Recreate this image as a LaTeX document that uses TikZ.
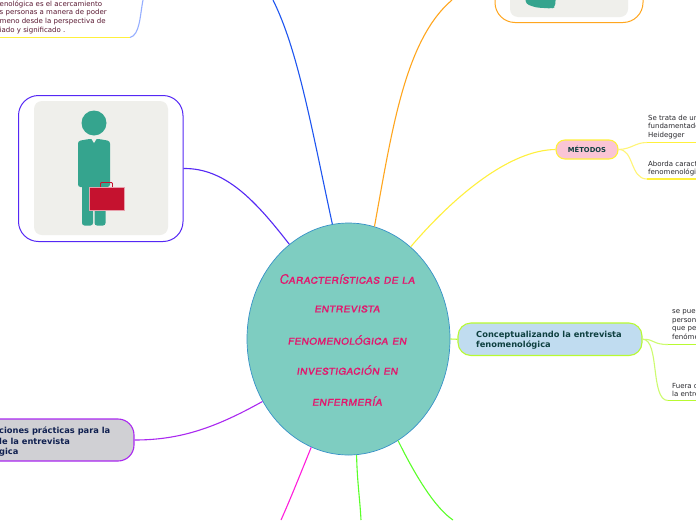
\documentclass[tikz,border=0pt]{standalone}
\usepackage{fontspec}
\setmainfont{DejaVu Sans}
\newfontfamily\titlefont[FakeSlant=0.15,FakeBold=0.4]{TeX Gyre Heros}
\usetikzlibrary{shapes.geometric}
\definecolor{centrefill}{RGB}{126,205,193}
\definecolor{centredraw}{RGB}{55,145,200}
\definecolor{titlepink}{RGB}{226,24,110}
\definecolor{metodfill}{RGB}{250,197,213}
\definecolor{linkyellow}{RGB}{255,240,60}
\definecolor{concfill}{RGB}{192,220,240}
\definecolor{linklime}{RGB}{184,250,50}
\definecolor{practfill}{RGB}{208,208,212}
\definecolor{linkpurple}{RGB}{170,40,240}
\definecolor{linkviolet}{RGB}{85,40,245}
\definecolor{linkorange}{RGB}{255,166,30}
\definecolor{linkblue}{RGB}{30,85,240}
\definecolor{linkpale}{RGB}{150,175,255}
\definecolor{linkgreen}{RGB}{90,255,40}
\definecolor{linkmagenta}{RGB}{255,30,220}
\definecolor{cardfill}{RGB}{239,239,235}
\definecolor{personteal}{RGB}{53,164,142}
\definecolor{casered}{RGB}{197,18,47}
\definecolor{textdark}{RGB}{40,40,45}
\definecolor{textmaroon}{RGB}{90,25,50}
\definecolor{textteal}{RGB}{14,64,64}
\definecolor{textnavy}{RGB}{16,32,80}
\tikzset{
    % Central topic
    centrenode/.style={
        ellipse, draw=centredraw, fill=centrefill, line width=0.7pt,
        minimum width=203pt, minimum height=232pt, inner sep=0pt
    },
    titletext/.style={
        inner sep=0pt, text=titlepink, font=\titlefont\fontsize{13}{15}\selectfont
    },
    % Branch boxes
    branchnode/.style={
        rectangle, line width=1.1pt, rounded corners=9pt, inner sep=0pt
    },
    cardnode/.style={
        rectangle, fill=white, line width=1pt, rounded corners=20pt, inner sep=0pt,
        minimum width=164.5pt, minimum height=146pt
    },
    backnode/.style={
        rectangle, fill=cardfill, rounded corners=8pt, inner sep=0pt
    },
    % Leaf texts
    leaftext/.style={
        anchor=north west, inner sep=0pt, align=left, text=textdark,
        font=\fontsize{7}{8.6}\selectfont
    },
    boldtext/.style={
        anchor=north west, inner sep=0pt, align=left,
        font=\bfseries\fontsize{8.3}{10.7}\selectfont
    },
    % Links
    link/.style={line width=1.1pt},
    underline/.style={line width=1.4pt}
}
\begin{document}
\begin{tikzpicture}[x=1pt,y=-1pt]
  \clip (0,0) rectangle (696,520);
  \fill[white] (0,0) rectangle (696,520);
  % centre
  \node[centrenode] (centre) at (348.5,339) {};
  \node[titletext] (t1) at (347,279) {\scshape Características de la};
  \node[titletext] (t2) at (347,309) {\scshape entrevista};
  \node[titletext] (t3) at (347,340) {\scshape fenomenológica en};
  \node[titletext] (t4) at (347,370) {\scshape investigación en};
  \node[titletext] (t5) at (347,401) {\scshape enfermería};
  % image cards
  \node[cardnode,draw=linkviolet] (cardleft) at (100.75,168.5) {};
  \node[backnode,minimum width=134pt,minimum height=134pt] (backleft) at (101,168) {};
  \fill[personteal] (94,123) circle (12.5);
  \fill[personteal,rounded corners=2.5pt] (78,141) -- (89,139) -- (99,139) -- (110,141) -- (110,187) -- (78,187) -- cycle;
  \fill[personteal,rounded corners=2.5pt] (82,180) rectangle (93,225.5);
  \fill[personteal,rounded corners=2.5pt] (94.5,180) rectangle (105.5,225.5);
  \fill[cardfill] (91.5,139) -- (96.5,139) -- (94,143) -- cycle;
  \draw[casered,line width=0.8pt,rounded corners=1pt] (100.5,187) -- (100.5,182.5) -- (112.5,182.5) -- (112.5,187);
  \draw[white!60!casered,line width=0.5pt,fill=casered] (89,187) rectangle (124,210);
  \node[cardnode,draw=linkorange,minimum width=148pt,minimum height=60pt] (cardright) at (569,-7.5) {};
  \node[backnode,minimum width=118pt,minimum height=50pt] (backright) at (569,-8) {};
  \fill[personteal,rounded corners=3pt] (525,-5) -- (556,-5) -- (555,7) -- (552,8.5) -- (536,7.5) -- (526,4) -- cycle;
  % branch boxes
  \node[branchnode,draw=linkyellow,fill=metodfill,minimum width=62pt,minimum height=19pt,
        font=\bfseries\fontsize{6.8}{8}\selectfont,text=textteal] (metodos) at (587,149.5) {MÉTODOS};
  \node[branchnode,draw=linklime,fill=concfill,minimum width=184pt,minimum height=32.5pt,rounded corners=13pt] (concepto) at (550,339.25) {};
  \node[boldtext,text=textteal] (conctext) at (476,330.5) {Conceptualizando la entrevista\\fenomenológica};
  \node[branchnode,draw=linkpurple,fill=practfill,minimum width=174pt,minimum height=42pt,rounded corners=16pt] (practica) at (47,440) {};
  \node[boldtext,text=textnavy] (practext) at (-1,426.5) {ciones prácticas para la\\le la entrevista\\gica};
  % leaf texts
  \node[leaftext,text=textmaroon] (intro) at (-0.5,0.5) {enológica es el acercamiento\\s personas a manera de poder\\meno desde la perspectiva de\\iado y significado .};
  \node[leaftext] (meta) at (648,114.5) {Se trata de un\\fundamentado\\Heidegger};
  \node[leaftext] (metb) at (648,160.5) {Aborda caract\\fenomenológi};
  \node[leaftext] (cona) at (672,309.5) {se pue\\person\\que pe\\fenóme};
  \node[leaftext] (conb) at (672,382.5) {Fuera d\\la entre};
  % free ends
  \coordinate (topblue) at (273,0);
  \coordinate (toporange) at (452,0);
  \coordinate (botgreen) at (453,520);
  \coordinate (botlime) at (361,520);
  \coordinate (botmag) at (281,520);
  \coordinate (introa) at (0,37.5);
  \coordinate (introb) at (130,37.5);
  \coordinate (toppale) at (143,0);
  \coordinate (metaa) at (647,142.5);
  \coordinate (metab) at (696,142.5);
  \coordinate (metba) at (647,179);
  \coordinate (metbb) at (696,179);
  \coordinate (conaa) at (668,344.5);
  \coordinate (conab) at (696,344.5);
  \coordinate (conba) at (668,400.5);
  \coordinate (conbb) at (696,400.5);
  % links from the centre
  \draw[link,linkblue] (centre.98) .. controls (312,130) and (298,50) .. (topblue);
  \draw[link,linkorange] (centre.77) .. controls (392,130) and (405,40) .. (toporange);
  \draw[link,linkyellow] (centre.56) .. controls (455,195) and (510,150) .. (metodos.west);
  \draw[link,linklime] (centre.0) -- (concepto.west);
  \draw[link,linkgreen] (centre.-64) .. controls (415,475) and (435,508) .. (botgreen);
  \draw[link,linkgreen] (centre.-86) .. controls (357,480) and (360,500) .. (botlime);
  \draw[link,linkmagenta] (centre.251) .. controls (300,475) and (290,500) .. (botmag);
  \draw[link,linkpurple] (centre.216) .. controls (215,428) and (180,440) .. (practica.east);
  \draw[link,linkviolet] (centre.122) .. controls (255,200) and (225,168) .. (cardleft.east);
  % links between leaves
  \draw[link,linkpale] (introb) .. controls (140,35) and (140,15) .. (toppale);
  \draw[link,linkyellow!70] (metodos.east) .. controls (632,149) and (635,142.5) .. (metaa);
  \draw[link,linkyellow!70] (metodos.east) .. controls (634,149) and (630,179) .. (metba);
  \draw[link,linklime!70] (concepto.east) .. controls (655,339) and (652,344.5) .. (conaa);
  \draw[link,linklime!70] (concepto.east) .. controls (660,339) and (650,400.5) .. (conba);
  % underlines
  \draw[underline,linkyellow] (introa) -- (introb);
  \draw[underline,linkyellow] (metaa) -- (metab);
  \draw[underline,linkyellow] (metba) -- (metbb);
  \draw[underline,linklime] (conaa) -- (conab);
  \draw[underline,linklime] (conba) -- (conbb);
\end{tikzpicture}
\end{document}
